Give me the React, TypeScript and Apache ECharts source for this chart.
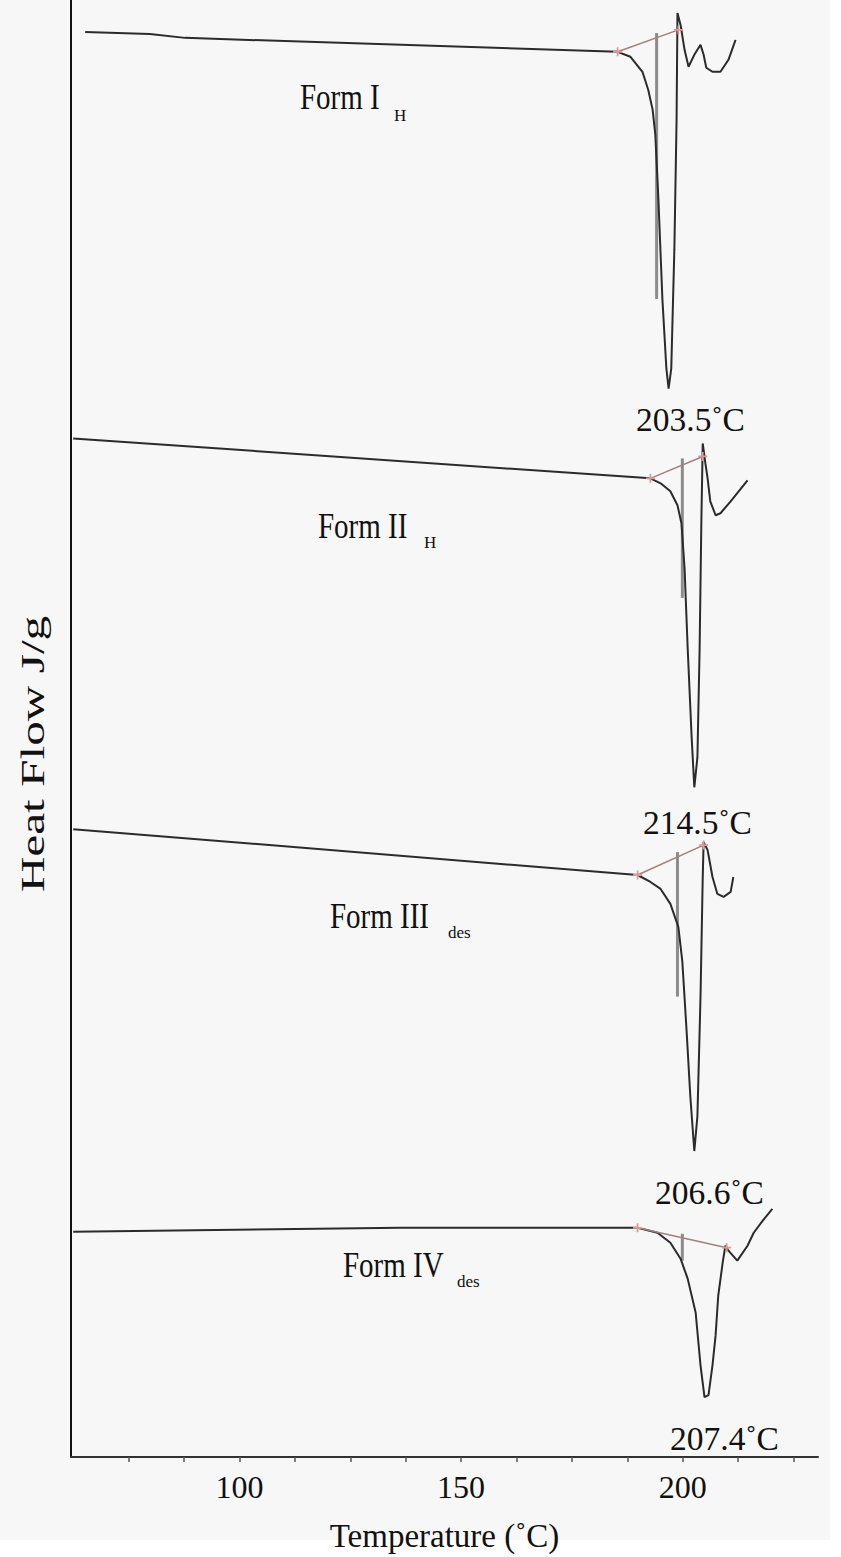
import React, { useEffect, useRef } from "react";
import * as echarts from "echarts";

// Temperature (°C) / heat flow (arbitrary units, offset per curve)
const formI: [number, number][] = [
  [65.2, 143.0], [79.8, 142.8], [87.7, 142.4], [185.3, 141.0], [188.2, 140.5], [190.9, 139.0],
  [192.2, 137.2], [193.2, 135.2], [193.8, 132.7], [194.5, 126.2], [195.4, 116.2], [196.3, 109.2],
  [196.8, 107.2], [197.4, 109.2], [198.1, 121.2], [198.6, 134.2], [198.8, 144.9], [199.5, 143.7],
  [200.4, 141.2], [201.3, 139.5], [202.6, 140.7], [204.0, 141.7], [204.7, 140.7], [205.3, 139.4],
  [206.7, 139.0], [208.5, 139.0], [210.3, 140.2], [211.9, 142.2],
];
const formII: [number, number][] = [
  [62.5, 102.2], [192.7, 98.2], [195.0, 97.7], [197.2, 96.9], [198.8, 95.5], [199.7, 93.7],
  [200.4, 89.2], [201.1, 81.2], [202.0, 72.2], [202.6, 67.2], [203.3, 70.2], [203.8, 81.2],
  [204.2, 94.2], [204.5, 101.7], [205.1, 99.7], [205.6, 98.2], [206.2, 95.9], [207.4, 94.5],
  [208.5, 94.7], [210.8, 95.9], [214.6, 98.0],
];
const formIII: [number, number][] = [
  [62.5, 63.0], [189.8, 58.4], [192.7, 57.7], [195.0, 57.0], [197.2, 55.5], [199.0, 53.2],
  [199.9, 49.7], [200.8, 43.2], [201.7, 36.2], [202.6, 30.7], [203.3, 34.2], [204.0, 46.2],
  [204.5, 58.2], [204.7, 61.7], [205.6, 60.9], [206.7, 58.2], [207.8, 56.5], [209.2, 56.2],
  [210.8, 56.7], [211.4, 58.2],
];
const formIV: [number, number][] = [
  [62.5, 22.6], [136.3, 23.0], [189.8, 23.0], [194.3, 22.5], [197.2, 21.5], [199.5, 19.9],
  [201.1, 17.9], [202.9, 14.5], [204.0, 9.2], [204.9, 6.0], [205.8, 6.2], [206.7, 9.2],
  [207.4, 12.2], [208.0, 16.2], [209.0, 19.5], [209.6, 21.2], [210.3, 20.7], [212.3, 19.7],
  [214.6, 21.2], [216.0, 22.5], [218.0, 23.7], [220.2, 24.9],
];

// software construction lines: peak drop lines and onset baselines
const dropLines: [number, number][][] = [
  [[194.1, 142.9], [194.1, 116.2]],
  [[199.9, 100.2], [199.9, 86.2]],
  [[198.8, 60.7], [198.8, 46.2]],
  [[199.9, 22.4], [199.9, 19.7]],
];
const baselines: [number, number][][] = [
  [[185.3, 141.0], [199.0, 143.2]],
  [[192.7, 98.2], [204.5, 100.4]],
  [[189.8, 58.4], [204.7, 61.4]],
  [[189.8, 23.0], [209.9, 21.0]],
];

const formNames = ["Form I", "Form II", "Form III", "Form IV"];
const formSubs = ["H", "H", "des", "des"];
const peakLabels = ["203.5˚C", "214.5˚C", "206.6˚C", "207.4˚C"];
const majorTicks = [100, 150, 200];
const minorTicks = [75, 87.5, 100, 112.5, 125, 137.5, 150, 162.5, 175, 187.5, 200, 212.5, 225];

const FONT = "'Liberation Serif', 'DejaVu Serif', serif";

export default function App() {
  const ref = useRef<HTMLDivElement>(null);
  useEffect(() => {
    if (!ref.current) return;
    const chart = echarts.init(ref.current, undefined, { renderer: "svg" });

    const curves = [formI, formII, formIII, formIV];
    const series: any[] = [];
    curves.forEach((d, i) => {
      series.push({
        type: "line",
        name: formNames[i] + formSubs[i],
        data: d,
        showSymbol: false,
        lineStyle: { color: "#2b2b2b", width: 2 },
        z: 3,
      });
      series.push({
        type: "line",
        data: dropLines[i],
        showSymbol: false,
        lineStyle: { color: "#8c8c8c", width: 3 },
        z: 2,
      });
      series.push({
        type: "line",
        data: baselines[i],
        symbol: "path://M4,0h2v4h4v2h-4v4h-2v-4h-4v-2h4z",
        symbolSize: 9,
        showSymbol: true,
        itemStyle: { color: "#d99a9a" },
        lineStyle: { color: "#a08080", width: 1.5 },
        z: 4,
      });
    });

    const labelPos = [
      { fx: 300, fy: 97, sx: 394, sy: 115 },
      { fx: 318, fy: 526, sx: 424, sy: 542 },
      { fx: 330, fy: 916, sx: 448, sy: 932 },
      { fx: 343, fy: 1265, sx: 457, sy: 1281 },
    ];
    const peakPos = [
      { x: 636, y: 419 },
      { x: 643, y: 822 },
      { x: 655, y: 1192 },
      { x: 670, y: 1438 },
    ];
    const graphic: any[] = [
      { type: "rect", shape: { x: 0, y: 0, width: 830, height: 1540 }, style: { fill: "#f7f7f7" }, z: -10, silent: true },
      {
        type: "text", x: 32, y: 754, rotation: Math.PI / 2, scaleX: 1.45,
        style: { text: "Heat Flow J/g", fontSize: 34, fontFamily: FONT, fill: "#111", align: "center", verticalAlign: "middle" },
      },
    ];
    labelPos.forEach((p, i) => {
      graphic.push({
        type: "text", x: p.fx, y: p.fy, scaleY: 1.2,
        style: { text: formNames[i], fontSize: 29, fontFamily: FONT, fill: "#111", verticalAlign: "middle", align: "left" },
      });
      graphic.push({
        type: "text", x: p.sx, y: p.sy,
        style: { text: formSubs[i], fontSize: 17, fontFamily: FONT, fill: "#111", verticalAlign: "middle", align: "left" },
      });
    });
    peakPos.forEach((p, i) => {
      graphic.push({
        type: "text", x: p.x, y: p.y,
        style: { text: peakLabels[i], fontSize: 33.5, fontFamily: FONT, fill: "#111", verticalAlign: "middle", align: "left" },
      });
    });

    chart.setOption({
      animation: false,
      backgroundColor: "#ffffff",
      grid: { left: 71, right: 23, top: 0, bottom: 95, containLabel: false },
      xAxis: {
        type: "value",
        min: 62,
        max: 230.5,
        name: "Temperature (˚C)",
        nameLocation: "middle",
        nameGap: 62,
        nameTextStyle: { fontSize: 33, fontFamily: FONT, color: "#111" },
        axisLine: { show: true, lineStyle: { color: "#333", width: 2 } },
        axisTick: { show: true, customValues: minorTicks, length: 5, lineStyle: { color: "#555", width: 1.5 } },
        axisLabel: { customValues: majorTicks, fontSize: 32, fontFamily: FONT, color: "#111", margin: 14 },
        splitLine: { show: false },
      },
      yAxis: {
        type: "value",
        min: 0,
        max: 146.2,
        axisLine: { show: true, lineStyle: { color: "#111", width: 2 } },
        axisTick: { show: false },
        axisLabel: { show: false },
        splitLine: { show: false },
      },
      graphic,
      series,
    });
    return () => chart.dispose();
  }, []);
  return (
    <div
      ref={ref}
      style={{ position: "absolute", left: 0, top: 0, width: 841, height: 1557 }}
    />
  );
}
